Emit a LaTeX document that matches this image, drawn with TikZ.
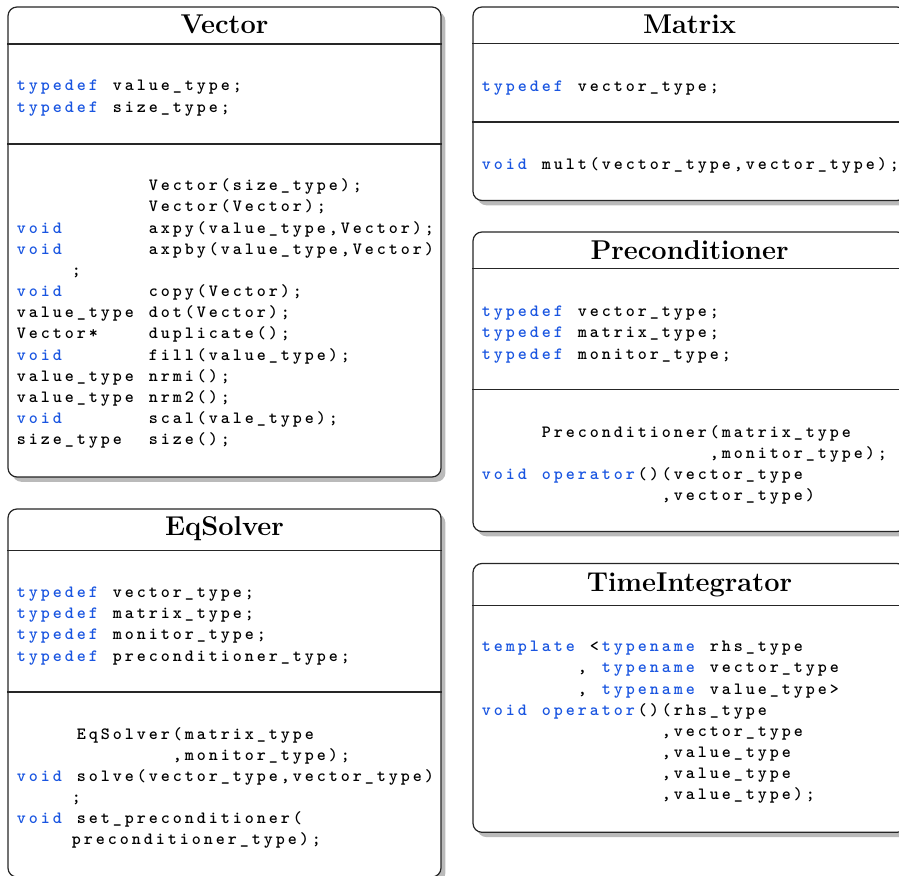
\documentclass[tikz,border=0pt]{standalone}
\usetikzlibrary{shadows,fit}
\definecolor{kw}{RGB}{25,85,225}
\newlength\cw
\setlength\cw{6pt}
\ExplSyntaxOn
\cs_new_protected:Npn \fixcols #1 { \str_map_inline:nn {#1} { \makebox[\cw][c]{##1} } }
\ExplSyntaxOff
\newcommand\T[1]{\fixcols{#1}}
\newcommand\K[1]{\textcolor{kw}{\fixcols{#1}}}
\newcommand\I[1]{\hspace*{#1\cw}}
\newcommand\CB{\hspace*{27.5pt}}
\newcommand\codeblock[1]{\parbox[t]{230pt}{\ttfamily\bfseries\fontsize{8.6}{10.585}\selectfont #1}}
\tikzset{
  classbox/.style={draw=black!85, line width=0.6pt, fill=white, rounded corners=4.5pt,
    inner sep=0pt, drop shadow={shadow xshift=2.2pt, shadow yshift=-2.4pt, fill=black!27, opacity=1}},
  sepline/.style={draw=black!85, line width=0.55pt},
  titletext/.style={font=\bfseries\fontsize{13.6}{16}\selectfont, inner sep=0pt, anchor=base},
  code/.style={inner sep=0pt, anchor=base west}
}
\begin{document}
\begin{tikzpicture}[x=0.5pt,y=-0.5pt]
\useasboundingbox (0,0) rectangle (899,876);
\clip (0,0) rectangle (899,876);
% ---------- Vector ----------
\node[classbox, fit={(8,7) (441,477)}] (vec) {};
\draw[sepline] (vec.west |- 0,44) -- (vec.east |- 0,44);
\draw[sepline] (vec.west |- 0,144) -- (vec.east |- 0,144);
\node[titletext] (vecT) at (224.5,34) {Vector};
\node[code] (vecA) at (15,91) {\codeblock{%
\K{typedef}\T{ value_type;}\\
\K{typedef}\T{ size_type;}}};
\node[code] (vecM) at (15,190.7) {\codeblock{%
\I{11}\T{Vector(size_type);}\\
\I{11}\T{Vector(Vector);}\\
\K{void}\I{7}\T{axpy(value_type,Vector);}\\
\K{void}\I{7}\T{axpby(value_type,Vector)}\\
\CB\T{;}\\
\K{void}\I{7}\T{copy(Vector);}\\
\T{value_type dot(Vector);}\\
\T{Vector*}\I{4}\T{duplicate();}\\
\K{void}\I{7}\T{fill(value_type);}\\
\T{value_type nrmi();}\\
\T{value_type nrm2();}\\
\K{void}\I{7}\T{scal(vale_type);}\\
\T{size_type}\I{2}\T{size();}}};
% ---------- EqSolver ----------
\node[classbox, fit={(8,509) (441,877)}] (eqs) {};
\draw[sepline] (eqs.west |- 0,550.5) -- (eqs.east |- 0,550.5);
\draw[sepline] (eqs.west |- 0,692) -- (eqs.east |- 0,692);
\node[titletext] (eqsT) at (224.5,536) {EqSolver};
\node[code] (eqsA) at (15,597.5) {\codeblock{%
\K{typedef}\T{ vector_type;}\\
\K{typedef}\T{ matrix_type;}\\
\K{typedef}\T{ monitor_type;}\\
\K{typedef}\T{ preconditioner_type;}}};
\node[code] (eqsM) at (15,739) {\codeblock{%
\I{5}\T{EqSolver(matrix_type}\\
\I{13}\T{,monitor_type);}\\
\K{void}\T{ solve(vector_type,vector_type)}\\
\CB\T{;}\\
\K{void}\T{ set_preconditioner(}\\
\CB\T{preconditioner_type);}}};
% ---------- Matrix ----------
\node[classbox, fit={(473,7) (906,200.5)}] (mat) {};
\draw[sepline] (mat.west |- 0,43.5) -- (mat.east |- 0,43.5);
\draw[sepline] (mat.west |- 0,122) -- (mat.east |- 0,122);
\node[titletext] (matT) at (689.5,34) {Matrix};
\node[code] (matA) at (480,91.5) {\codeblock{%
\K{typedef}\T{ vector_type;}}};
\node[code] (matM) at (480,169.5) {\codeblock{%
\K{void}\T{ mult(vector_type,vector_type);}}};
% ---------- Preconditioner ----------
\node[classbox, fit={(473,232) (906,531.5)}] (pre) {};
\draw[sepline] (pre.west |- 0,268.5) -- (pre.east |- 0,268.5);
\draw[sepline] (pre.west |- 0,389.5) -- (pre.east |- 0,389.5);
\node[titletext] (preT) at (689.5,259.5) {Preconditioner};
\node[code] (preA) at (480,316.7) {\codeblock{%
\K{typedef}\T{ vector_type;}\\
\K{typedef}\T{ matrix_type;}\\
\K{typedef}\T{ monitor_type;}}};
\node[code] (preM) at (480,437.3) {\codeblock{%
\I{5}\T{Preconditioner(matrix_type}\\
\I{19}\T{,monitor_type);}\\
\K{void}\T{ }\K{operator}\T{()(vector_type}\\
\I{15}\T{,vector_type)}}};
% ---------- TimeIntegrator ----------
\node[classbox, fit={(473,563.5) (906,832.3)}] (tim) {};
\draw[sepline] (tim.west |- 0,605.5) -- (tim.east |- 0,605.5);
\node[titletext] (timT) at (689.5,591) {TimeIntegrator};
\node[code] (timM) at (480,651.7) {\codeblock{%
\K{template}\T{ <}\K{typename}\T{ rhs_type}\\
\I{8}\T{, }\K{typename}\T{ vector_type}\\
\I{8}\T{, }\K{typename}\T{ value_type>}\\
\K{void}\T{ }\K{operator}\T{()(rhs_type}\\
\I{15}\T{,vector_type}\\
\I{15}\T{,value_type}\\
\I{15}\T{,value_type}\\
\I{15}\T{,value_type);}}};
\end{tikzpicture}
\end{document}
